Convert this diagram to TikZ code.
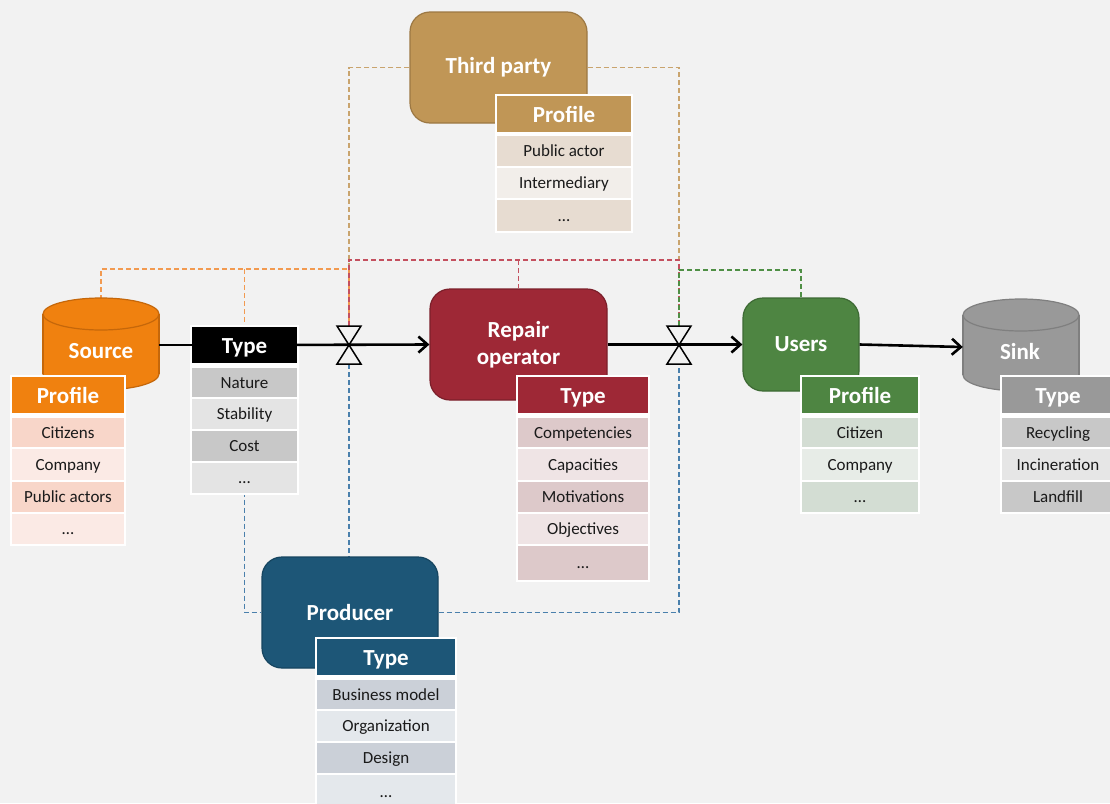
\documentclass[tikz,border=0pt]{standalone}
\usepackage{fontspec}
\setmainfont{Carlito}
\usetikzlibrary{arrows.meta}
\definecolor{bg}{HTML}{F2F2F2}
\definecolor{txt}{HTML}{1A1A1A}
\definecolor{orM}{HTML}{F0810F}\definecolor{orD}{HTML}{C5670A}
\definecolor{orA}{HTML}{F8D6C9}\definecolor{orB}{HTML}{FBEAE5}
\definecolor{bkA}{HTML}{C8C8C8}\definecolor{bkB}{HTML}{E4E4E4}
\definecolor{reM}{HTML}{9E2836}\definecolor{reD}{HTML}{7B1F2A}
\definecolor{reA}{HTML}{DDC9CA}\definecolor{reB}{HTML}{EFE4E5}
\definecolor{grM}{HTML}{4E8542}\definecolor{grD}{HTML}{3D6A34}
\definecolor{grA}{HTML}{D3DDD3}\definecolor{grB}{HTML}{E7ECE7}
\definecolor{siM}{HTML}{999999}\definecolor{siD}{HTML}{7F7F7F}
\definecolor{siA}{HTML}{C8C8C8}\definecolor{siB}{HTML}{E6E6E6}
\definecolor{taM}{HTML}{C09656}\definecolor{taD}{HTML}{9C7843}
\definecolor{taA}{HTML}{E7DCD1}\definecolor{taB}{HTML}{F2EEEA}
\definecolor{prM}{HTML}{1D5677}\definecolor{prD}{HTML}{164560}
\definecolor{prA}{HTML}{CBD0D8}\definecolor{prB}{HTML}{E4E8EC}
\definecolor{dOr}{HTML}{F29A50}\definecolor{dRe}{HTML}{C4505F}
\definecolor{dTa}{HTML}{C9A46E}\definecolor{dGr}{HTML}{4F8F45}
\definecolor{dBl}{HTML}{4A80AC}
\pgfdeclarelayer{bglayer}
\pgfdeclarelayer{dashlayer}
\pgfsetlayers{bglayer,dashlayer,main}
% cell: name, x1, y1, x2, y2, fill, text, style
\newcommand\tcell[8]{\fill[#6] (#2,#3) rectangle (#4,#5) node[midway,#8] (#1) {#7};}
\newcommand\tback[4]{\fill[white] (#1-2,#2-2) rectangle (#3+2,#4+2);}
\begin{document}
\begin{tikzpicture}[x=1pt,y=-1pt,
  hdr/.style={font=\fontsize{23}{24}\selectfont\bfseries, text=white, inner sep=0, text height=17pt, text depth=0pt},
  cel/.style={font=\fontsize{17}{18}\selectfont, text=txt, inner sep=0, text height=11pt, text depth=0pt},
  boxsty/.style={rounded corners=20pt, line width=1.2pt, font=\fontsize{23}{27}\selectfont\bfseries, text=white, align=center, inner sep=0},
  flow/.style={line width=2.6pt, draw=black},
  arr/.style={-{Straight Barb[length=9pt,width=16pt]}},
  dsh/.style={line width=1.3pt, dash pattern=on 5pt off 3pt},
  valve/.style={line width=1.5pt, draw=black, fill=bg, line join=miter}]
\useasboundingbox (0,0) rectangle (1110,803);
\begin{pgfonlayer}{bglayer}
\fill[bg] (0,0) rectangle (1110,803);
\end{pgfonlayer}

% ---------- cylinders ----------
\fill[orM, draw=orD, line width=1.2pt] (101,374) ellipse (58 and 16);
\fill[orM] (43,314) rectangle (159,374);
\draw[orD, line width=1.2pt] (43,314) -- (43,374) (159,314) -- (159,374);
\fill[orM, draw=orD, line width=1.2pt] (101,314) ellipse (58 and 16);
\node[inner sep=0, minimum width=116pt, minimum height=90pt] (source) at (101,345) {};
\node[hdr] (sourcetxt) at (101,350) {Source};

\fill[siM, draw=siD, line width=1.2pt] (1021,375) ellipse (58 and 16);
\fill[siM] (963,315) rectangle (1079,375);
\draw[siD, line width=1.2pt] (963,315) -- (963,375) (1079,315) -- (1079,375);
\fill[siM, draw=siD, line width=1.2pt] (1021,315) ellipse (58 and 16);
\node[inner sep=0, minimum width=116pt, minimum height=88pt] (sink) at (1021,347) {};
\node[hdr] (sinktxt) at (1020,351) {Sink};

% ---------- boxes ----------
\node[boxsty, fill=taM, draw=taD, minimum width=177pt, minimum height=111pt] (third) at (498.5,67.5) {\raisebox{-2pt}{Third party}};
\node[boxsty, fill=reM, draw=reD, minimum width=177pt, minimum height=111pt] (repair) at (518.5,344.5) {Repair\\operator};
\node[boxsty, fill=grM, draw=grD, minimum width=116pt, minimum height=93pt] (users) at (801,344.5) {\raisebox{-2pt}{Users}};
\node[boxsty, fill=prM, draw=prD, minimum width=176pt, minimum height=111pt] (producer) at (350,612.5) {\raisebox{-2pt}{Producer}};

% ---------- tables ----------
% Source profile
\tback{12}{377}{124}{544}
\tcell{sph}{12}{377}{124}{413}{orM}{Profile}{hdr}
\tcell{sp1}{12}{418}{124}{447}{orA}{Citizens}{cel}
\tcell{sp2}{12}{449}{124}{480}{orB}{Company}{cel}
\tcell{sp3}{12}{482}{124}{512}{orA}{Public actors}{cel}
\tcell{sp4}{12}{514}{124}{544}{orB}{…}{cel}
% Source-side type (black)
\tback{192}{327}{297}{493}
\tcell{bth}{192}{327}{297}{363}{black}{Type}{hdr}
\tcell{bt1}{192}{368}{297}{397}{bkA}{Nature}{cel}
\tcell{bt2}{192}{399}{297}{429}{bkB}{Stability}{cel}
\tcell{bt3}{192}{431}{297}{461}{bkA}{Cost}{cel}
\tcell{bt4}{192}{463}{297}{493}{bkB}{…}{cel}
% Third party profile
\tback{497}{96}{631}{231}
\tcell{tph}{497}{96}{631}{132}{taM}{Profile}{hdr}
\tcell{tp1}{497}{136}{631}{166}{taA}{Public actor}{cel}
\tcell{tp2}{497}{168}{631}{198}{taB}{Intermediary}{cel}
\tcell{tp3}{497}{200}{631}{231}{taA}{…}{cel}
% Repair type
\tback{518}{377}{648}{580}
\tcell{rth}{518}{377}{648}{413}{reM}{Type}{hdr}
\tcell{rt1}{518}{418}{648}{447}{reA}{Competencies}{cel}
\tcell{rt2}{518}{449}{648}{480}{reB}{Capacities}{cel}
\tcell{rt3}{518}{482}{648}{512}{reA}{Motivations}{cel}
\tcell{rt4}{518}{514}{648}{544}{reB}{Objectives}{cel}
\tcell{rt5}{518}{546}{648}{580}{reA}{…}{cel}
% Users profile
\tback{802}{377}{918}{512}
\tcell{uph}{802}{377}{918}{413}{grM}{Profile}{hdr}
\tcell{up1}{802}{418}{918}{447}{grA}{Citizen}{cel}
\tcell{up2}{802}{449}{918}{480}{grB}{Company}{cel}
\tcell{up3}{802}{482}{918}{512}{grA}{…}{cel}
% Sink type
\tback{1002}{377}{1114}{512}
\tcell{sth}{1002}{377}{1114}{413}{siM}{Type}{hdr}
\tcell{st1}{1002}{418}{1114}{447}{siA}{Recycling}{cel}
\tcell{st2}{1002}{449}{1114}{480}{siB}{Incineration}{cel}
\tcell{st3}{1002}{482}{1114}{512}{siA}{Landfill}{cel}
% Producer type
\tback{317}{639}{455}{808}
\tcell{pth}{317}{639}{455}{675}{prM}{Type}{hdr}
\tcell{pt1}{317}{680}{455}{709}{prA}{Business model}{cel}
\tcell{pt2}{317}{711}{455}{741}{prB}{Organization}{cel}
\tcell{pt3}{317}{743}{455}{773}{prA}{Design}{cel}
\tcell{pt4}{317}{775}{455}{808}{prB}{…}{cel}

% ---------- valves ----------
\coordinate (v1) at (349,345);
\coordinate (v2) at (679,345);
\coordinate (v1t) at (349,326);
\coordinate (v1b) at (349,364);
\coordinate (v2t) at (679,326);
\coordinate (v2b) at (679,364);
\foreach \v in {v1,v2}{
  \draw[valve] (\v) -- ++(-12,-19) -- ++(24,0) -- cycle;
  \draw[valve] (\v) -- ++(-12,19) -- ++(24,0) -- cycle;
}

% ---------- flow ----------
\draw[flow] (source.east) -- (bth.west);
\draw[flow, arr] (bth.east) -- (repair.west);
\draw[flow, arr] (repair.east) -- (users.west);
\draw[flow, arr] (users.east) -- (sink.west);

% ---------- dashed connectors ----------
\coordinate (oc) at (349,269);
\coordinate (rl) at (349,260);
\coordinate (rr) at (679,260);
\coordinate (gl) at (679,270);
\begin{pgfonlayer}{dashlayer}
\draw[dsh, dTa] (third.west) -| (v1t);
\draw[dsh, dTa] (third.east) -| (v2t);
\draw[dsh, dOr] (source.north) |- (oc) -- (v1t);
\draw[dsh, dOr] (bth.north |- oc) -- (bth.north);
\draw[dsh, dRe] (v1t) -- (rl) -- (rr) -- (v2t);
\draw[dsh, dRe] (repair.north |- rl) -- (repair.north);
\draw[dsh, dGr] (v2t) -- (gl) -| (users.north);
\draw[dsh, dBl] (v1b) -- (v1b |- producer.north);
\draw[dsh, dBl] (bt4.south) |- (producer.west);
\draw[dsh, dBl] (producer.east) -| (v2b);
\end{pgfonlayer}
\end{tikzpicture}
\end{document}
